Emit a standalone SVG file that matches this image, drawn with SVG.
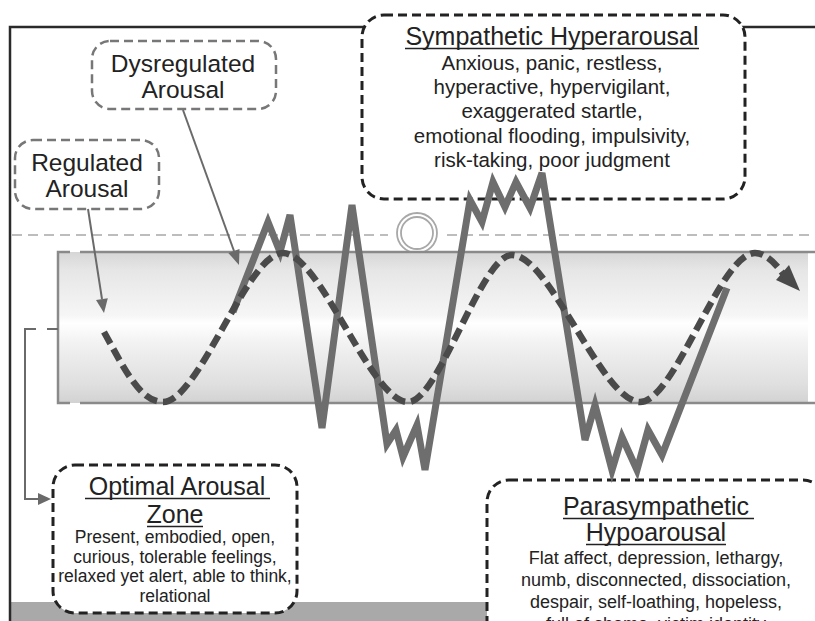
<svg xmlns="http://www.w3.org/2000/svg" width="815" height="621" viewBox="0 0 815 621">
<defs>
<linearGradient id="tubeGrad" x1="0" y1="0" x2="0" y2="1">
<stop offset="0" stop-color="#d6d6d6"/>
<stop offset="0.12" stop-color="#e6e6e6"/>
<stop offset="0.42" stop-color="#f6f6f6"/>
<stop offset="0.47" stop-color="#ffffff"/>
<stop offset="0.6" stop-color="#f2f2f2"/>
<stop offset="0.88" stop-color="#dfdfdf"/>
<stop offset="1" stop-color="#d2d2d2"/>
</linearGradient>
</defs>
<style>
.t{font-family:"Liberation Sans",Arial,sans-serif;fill:#222;text-anchor:middle}
.title{font-size:25px}
.lbl{font-size:24.5px}
.sb{font-size:20.5px}
.ob{font-size:17.5px}
.pb{font-size:18px}
.ul{stroke:#222;stroke-width:1.5;fill:none}
.boxK{fill:#fff;stroke:#222;stroke-width:3;stroke-dasharray:9 5}
.boxG{fill:#fff;stroke:#777;stroke-width:2.5;stroke-dasharray:9 5}
.conn{stroke:#6a6a6a;stroke-width:2;fill:none}
.head{fill:#6a6a6a}
.tubeLine{stroke:#8a8a8a;stroke-width:2.5;fill:none}
</style>
<rect width="815" height="621" fill="#fff"/>
<!-- bottom band -->
<rect x="10" y="602" width="480" height="19" fill="#a9a9a9"/>
<!-- frame -->
<path d="M10,621 V27 H815" fill="none" stroke="#2a2a2a" stroke-width="2.5"/>
<!-- light dashed line -->
<path d="M12,235 H388 M447,235 H815" fill="none" stroke="#bdbdbd" stroke-width="2.2" stroke-dasharray="10 6"/>
<!-- circle -->
<g fill="none" stroke="#a8a8a8" stroke-width="1.8">
<circle cx="417" cy="233" r="20"/>
<circle cx="417" cy="233" r="16"/>
</g>
<!-- tube -->
<g id="tube">
<rect x="59" y="252" width="749" height="151" fill="url(#tubeGrad)"/>
<path class="tubeLine" d="M80,252 H815 M80,403 H815 M70,252 H58 V403 H70"/>
</g>
<!-- nodes -->
<g id="sympathetic">
<rect class="boxK" x="362" y="15" width="383" height="184" rx="22"/>
<text class="t title" x="552" y="45">Sympathetic Hyperarousal</text>
<path class="ul" d="M405,48.5 H699"/>
<text class="t sb" x="552" y="70">Anxious, panic, restless,</text>
<text class="t sb" x="552" y="94">hyperactive, hypervigilant,</text>
<text class="t sb" x="552" y="118">exaggerated startle,</text>
<text class="t sb" x="552" y="143">emotional flooding, impulsivity,</text>
<text class="t sb" x="552" y="167">risk-taking, poor judgment</text>
</g>
<g id="dysregulated">
<rect class="boxG" x="92" y="41" width="184" height="68" rx="18"/>
<text class="t lbl" x="183" y="72">Dysregulated</text>
<text class="t lbl" x="183" y="98">Arousal</text>
</g>
<g id="regulated">
<rect class="boxG" x="15" y="140" width="144" height="69" rx="18"/>
<text class="t lbl" x="87" y="171">Regulated</text>
<text class="t lbl" x="87" y="197">Arousal</text>
</g>
<g id="optimal">
<rect class="boxK" x="53" y="465" width="244" height="148" rx="22"/>
<text class="t title" x="177" y="495">Optimal Arousal</text>
<path class="ul" d="M85,498.5 H270"/>
<text class="t title" x="175" y="523">Zone</text>
<path class="ul" d="M147,526.5 H203"/>
<text class="t ob" x="175" y="543">Present, embodied, open,</text>
<text class="t ob" x="175" y="563">curious, tolerable feelings,</text>
<text class="t ob" x="175" y="582">relaxed yet alert, able to think,</text>
<text class="t ob" x="175" y="602">relational</text>
</g>
<g id="parasympathetic">
<rect class="boxK" x="487" y="480" width="338" height="180" rx="22"/>
<text class="t title" x="656" y="515">Parasympathetic</text>
<path class="ul" d="M563,518.5 H754"/>
<text class="t title" x="656" y="541">Hypoarousal</text>
<path class="ul" d="M586,544.5 H726"/>
<text class="t pb" x="656" y="564">Flat affect, depression, lethargy,</text>
<text class="t pb" x="656" y="586">numb, disconnected, dissociation,</text>
<text class="t pb" x="656" y="608">despair, self-loathing, hopeless,</text>
<text class="t pb" x="656" y="630">full of shame, victim identity</text>
</g>
<!-- connectors -->
<g id="connectors">
<path class="conn" d="M88,209 L102,299"/>
<polygon class="head" points="107.8,298.3 104,313 96,300.1"/>
<path class="conn" d="M183,110 L234,251"/>
<polygon class="head" points="239.5,248.9 239,265 228.3,252.9"/>
<path class="conn" stroke="#808080" d="M47,329 H58 M36,329 H25 V499 H39"/>
<polygon class="head" points="38,493 51,499 38,505"/>
</g>
<!-- dysregulated zigzag -->
<path id="zigzag" d="M233,312 L268,222 L280,252 L290,215 L322,428 L352,205 L387,444 L396,430 L403,457 L417,425 L425,470 L470,200 L482,222 L493,182 L505,207 L516,182 L530,208 L542,173 L585,440 L595,405 L612,470 L622,437 L637,470 L648,430 L662,455 L727,288" fill="none" stroke="#6e6e6e" stroke-width="7" stroke-linejoin="miter"/>
<!-- regulated wave -->
<g id="wave">
<path d="M104,332 C124,368 140,402 163,402 C199,402 247,253 283,253 C320,253 371,402 408,402 C439,402 481,255 512,255 C550,255 602,402 640,402 C675,402 720,253 755,253 C766,253 776,264 784,275" fill="none" stroke="#4a4a4a" stroke-width="6.5" stroke-dasharray="13 6"/>
<polygon points="776,280 800,291 789,265" fill="#4a4a4a"/>
</g>
</svg>
